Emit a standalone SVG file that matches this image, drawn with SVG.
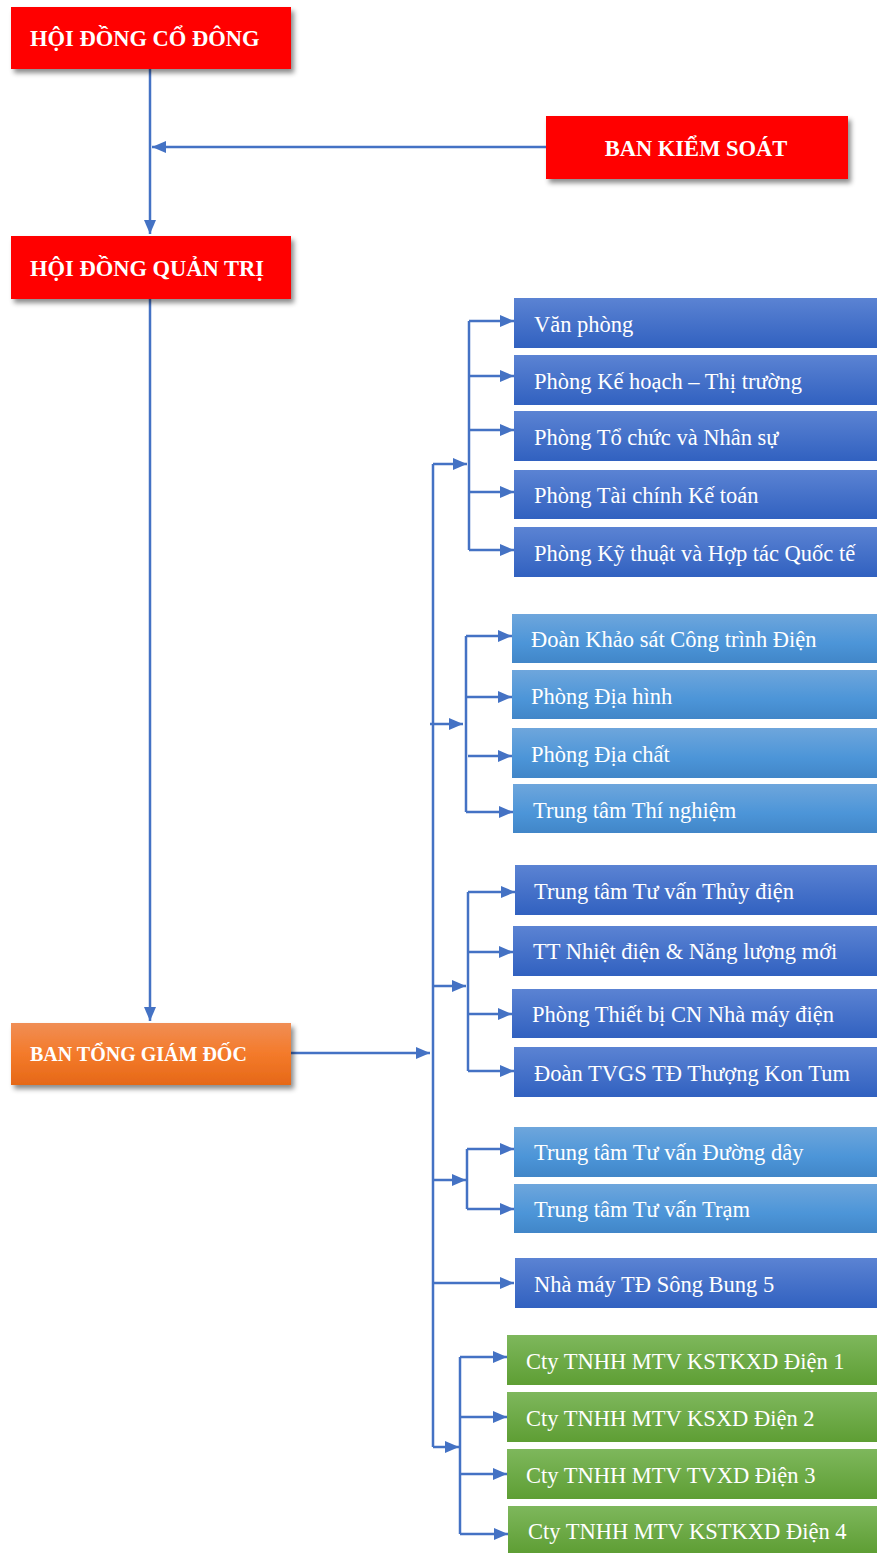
<svg xmlns="http://www.w3.org/2000/svg" width="877" height="1553" viewBox="0 0 877 1553">
<defs>
<linearGradient id="gBlue" x1="0" y1="0" x2="0" y2="1"><stop offset="0" stop-color="#5B83D3"/><stop offset="1" stop-color="#3161C0"/></linearGradient>
<linearGradient id="gLight" x1="0" y1="0" x2="0" y2="1"><stop offset="0" stop-color="#6EA6DC"/><stop offset="0.6" stop-color="#4C95D8"/><stop offset="1" stop-color="#4186C8"/></linearGradient>
<linearGradient id="gGreen" x1="0" y1="0" x2="0" y2="1"><stop offset="0" stop-color="#7EB75C"/><stop offset="1" stop-color="#5E9E34"/></linearGradient>
<linearGradient id="gOrange" x1="0" y1="0" x2="0" y2="1"><stop offset="0" stop-color="#F08E55"/><stop offset="0.5" stop-color="#F47A2A"/><stop offset="1" stop-color="#E56818"/></linearGradient>
<filter id="sh" x="-10%" y="-20%" width="125%" height="160%"><feDropShadow dx="3" dy="4" stdDeviation="2.5" flood-color="#000" flood-opacity="0.45"/></filter>
<marker id="ah" markerWidth="14" markerHeight="12" refX="14" refY="6" orient="auto" markerUnits="userSpaceOnUse"><path d="M0,0 L14,6 L0,12 Z" fill="#4472C4"/></marker>
</defs>
<style>
.t{font-family:"Liberation Serif","Times New Roman",serif;fill:#fff}
.h{font-weight:bold;font-size:22.5px}
.n{font-size:22.5px}
.c{fill:none;stroke:#4472C4;stroke-width:2.5}
</style>
<g id="connectors">
<path class="c" d="M150,69 V234" marker-end="url(#ah)"/>
<path class="c" d="M546,147 H152" marker-end="url(#ah)"/>
<path class="c" d="M150,299 V1021" marker-end="url(#ah)"/>
<path class="c" d="M291,1053 H430" marker-end="url(#ah)"/>
<path class="c" d="M433,1447 V464"/>
<path class="c" d="M433,464 H467" marker-end="url(#ah)"/>
<path class="c" d="M430,724 H463" marker-end="url(#ah)"/>
<path class="c" d="M433,986 H466" marker-end="url(#ah)"/>
<path class="c" d="M433,1180 H466" marker-end="url(#ah)"/>
<path class="c" d="M433,1283 H514" marker-end="url(#ah)"/>
<path class="c" d="M433,1447 H459" marker-end="url(#ah)"/>
<path class="c" d="M469,321 V550"/>
<path class="c" d="M469,321 H514" marker-end="url(#ah)"/>
<path class="c" d="M469,376 H514" marker-end="url(#ah)"/>
<path class="c" d="M469,430 H514" marker-end="url(#ah)"/>
<path class="c" d="M469,492 H514" marker-end="url(#ah)"/>
<path class="c" d="M469,550 H514" marker-end="url(#ah)"/>
<path class="c" d="M466,636 V812"/>
<path class="c" d="M466,636 H512" marker-end="url(#ah)"/>
<path class="c" d="M466,697 H512" marker-end="url(#ah)"/>
<path class="c" d="M468,756 H512" marker-end="url(#ah)"/>
<path class="c" d="M466,812 H513" marker-end="url(#ah)"/>
<path class="c" d="M468,892 V1071"/>
<path class="c" d="M468,892 H515" marker-end="url(#ah)"/>
<path class="c" d="M468,952 H513" marker-end="url(#ah)"/>
<path class="c" d="M468,1014 H512" marker-end="url(#ah)"/>
<path class="c" d="M468,1071 H514" marker-end="url(#ah)"/>
<path class="c" d="M467,1149 V1209"/>
<path class="c" d="M467,1149 H514" marker-end="url(#ah)"/>
<path class="c" d="M467,1209 H514" marker-end="url(#ah)"/>
<path class="c" d="M460,1357 V1534"/>
<path class="c" d="M460,1357 H507" marker-end="url(#ah)"/>
<path class="c" d="M460,1417 H507" marker-end="url(#ah)"/>
<path class="c" d="M460,1474 H507" marker-end="url(#ah)"/>
<path class="c" d="M460,1534 H508" marker-end="url(#ah)"/>
</g>
<g id="hdcd"><rect x="11" y="7" width="280" height="62" fill="#FF0000" filter="url(#sh)"/><text class="t h" x="30" y="46">HỘI ĐỒNG CỔ ĐÔNG</text></g>
<g id="bks"><rect x="546" y="116" width="302" height="63" fill="#FF0000" filter="url(#sh)"/><text class="t h" x="696" y="156" text-anchor="middle">BAN KIỂM SOÁT</text></g>
<g id="hdqt"><rect x="11" y="236" width="280" height="63" fill="#FF0000" filter="url(#sh)"/><text class="t h" x="30" y="276">HỘI ĐỒNG QUẢN TRỊ</text></g>
<g id="btgd"><rect x="11" y="1023" width="280" height="62" fill="url(#gOrange)" filter="url(#sh)"/><text class="t h" x="30" y="1061" style="font-size:20px">BAN TỔNG GIÁM ĐỐC</text></g>
<g id="b1"><rect x="514" y="298" width="363" height="50" fill="url(#gBlue)"/><text class="t n" x="534" y="332">Văn phòng</text></g>
<g id="b2"><rect x="514" y="355" width="363" height="50" fill="url(#gBlue)"/><text class="t n" x="534" y="389">Phòng Kế hoạch – Thị trường</text></g>
<g id="b3"><rect x="514" y="411" width="363" height="50" fill="url(#gBlue)"/><text class="t n" x="534" y="445">Phòng Tổ chức và Nhân sự</text></g>
<g id="b4"><rect x="514" y="470" width="363" height="49" fill="url(#gBlue)"/><text class="t n" x="534" y="503">Phòng Tài chính Kế toán</text></g>
<g id="b5"><rect x="514" y="527" width="363" height="50" fill="url(#gBlue)"/><text class="t n" x="534" y="561">Phòng Kỹ thuật và Hợp tác Quốc tế</text></g>
<g id="l1"><rect x="512" y="614" width="365" height="49" fill="url(#gLight)"/><text class="t n" x="531" y="647">Đoàn Khảo sát Công trình Điện</text></g>
<g id="l2"><rect x="512" y="670" width="365" height="49" fill="url(#gLight)"/><text class="t n" x="531" y="704">Phòng Địa hình</text></g>
<g id="l3"><rect x="512" y="728" width="365" height="50" fill="url(#gLight)"/><text class="t n" x="531" y="762">Phòng Địa chất</text></g>
<g id="l4"><rect x="513" y="784" width="364" height="49" fill="url(#gLight)"/><text class="t n" x="533" y="818">Trung tâm Thí nghiệm</text></g>
<g id="c1"><rect x="515" y="865" width="362" height="50" fill="url(#gBlue)"/><text class="t n" x="534" y="899">Trung tâm Tư vấn Thủy điện</text></g>
<g id="c2"><rect x="513" y="926" width="364" height="50" fill="url(#gBlue)"/><text class="t n" x="533" y="959">TT Nhiệt điện &amp; Năng lượng mới</text></g>
<g id="c3"><rect x="512" y="989" width="365" height="49" fill="url(#gBlue)"/><text class="t n" x="532" y="1022">Phòng Thiết bị CN Nhà máy điện</text></g>
<g id="c4"><rect x="514" y="1047" width="363" height="50" fill="url(#gBlue)"/><text class="t n" x="534" y="1081">Đoàn TVGS TĐ Thượng Kon Tum</text></g>
<g id="d1"><rect x="514" y="1127" width="363" height="50" fill="url(#gLight)"/><text class="t n" x="534" y="1160">Trung tâm Tư vấn Đường dây</text></g>
<g id="d2"><rect x="514" y="1184" width="363" height="49" fill="url(#gLight)"/><text class="t n" x="534" y="1217">Trung tâm Tư vấn Trạm</text></g>
<g id="e1"><rect x="515" y="1258" width="362" height="50" fill="url(#gBlue)"/><text class="t n" x="534" y="1292">Nhà máy TĐ Sông Bung 5</text></g>
<g id="g1"><rect x="507" y="1335" width="370" height="50" fill="url(#gGreen)"/><text class="t n" x="526" y="1369">Cty TNHH MTV KSTKXD Điện 1</text></g>
<g id="g2"><rect x="507" y="1392" width="370" height="50" fill="url(#gGreen)"/><text class="t n" x="526" y="1426">Cty TNHH MTV KSXD Điện 2</text></g>
<g id="g3"><rect x="507" y="1449" width="370" height="50" fill="url(#gGreen)"/><text class="t n" x="526" y="1483">Cty TNHH MTV TVXD Điện 3</text></g>
<g id="g4"><rect x="508" y="1506" width="369" height="47" fill="url(#gGreen)"/><text class="t n" x="528" y="1539">Cty TNHH MTV KSTKXD Điện 4</text></g>
</svg>
